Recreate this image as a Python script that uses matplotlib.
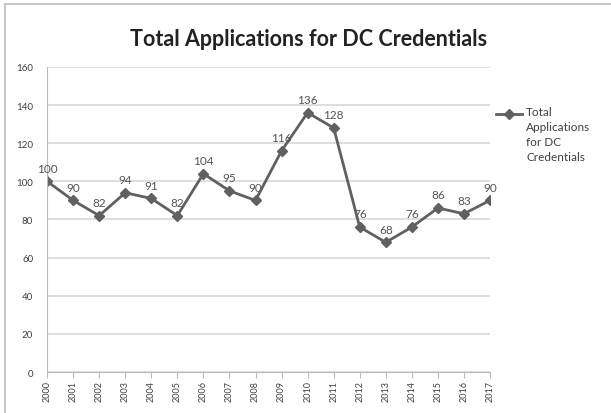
import matplotlib.pyplot as plt
from matplotlib.lines import Line2D
from matplotlib.patches import Rectangle

years = [str(y) for y in range(2000, 2018)]
applications = [100, 90, 82, 94, 91, 82, 104, 95, 90, 116, 136, 128, 76, 68, 76, 86, 83, 90]
y_ticks = [0, 20, 40, 60, 80, 100, 120, 140, 160]
series_name = "Total\nApplications\nfor DC\nCredentials"

plt.rcParams["font.family"] = ["Lato", "DejaVu Sans"]

fig = plt.figure(figsize=(6.11, 4.14), dpi=100)
ax = fig.add_axes([0.077, 0.099, 0.725, 0.737])

# light frame around the chart area, like the Excel screenshot
fig.patches.append(Rectangle((0.008, -0.01), 1.0, 0.997, transform=fig.transFigure,
                             fill=False, edgecolor="#c8c8c8", linewidth=1.5))

x = list(range(len(years)))
ax.plot(x, applications, color="#606060", linewidth=2.0, marker="D", markersize=5)

for xi, v in zip(x, applications):
    ax.annotate(str(v), (xi, v), textcoords="offset points", xytext=(0, 7),
                ha="center", fontsize=8.5, color="#555555")

ax.set_xlim(0, len(years) - 1)
ax.set_ylim(0, 160)
ax.set_yticks(y_ticks)
ax.set_xticks(x)
ax.set_xticklabels(years, rotation=90, fontsize=6.5, color="#404040")
ax.tick_params(axis="y", length=0, labelsize=7, colors="#404040", pad=10)
ax.tick_params(axis="x", length=4, color="#bbbbbb", pad=2)
ax.grid(axis="y", color="#d9d9d9", linewidth=1.2)
ax.set_axisbelow(True)
for side in ["top", "right"]:
    ax.spines[side].set_visible(False)
ax.spines["left"].set_color("#bbbbbb")
ax.spines["bottom"].set_color("#bbbbbb")

fig.text(0.505, 0.905, "Total Applications for DC Credentials", ha="center",
         va="center", fontsize=15.5, fontweight="bold", color="#222222")

# Excel-style legend: key sits beside the first line of the wrapped label
fig.add_artist(Line2D([0.812, 0.855], [0.722, 0.722], transform=fig.transFigure,
                      color="#606060", linewidth=2.0))
fig.add_artist(Line2D([0.8335], [0.722], transform=fig.transFigure,
                      color="#606060", marker="D", markersize=5))
fig.text(0.861, 0.741, series_name, ha="left", va="top", fontsize=8.5,
         color="#404040", linespacing=1.45)

fig.savefig("out.png", dpi=100)
